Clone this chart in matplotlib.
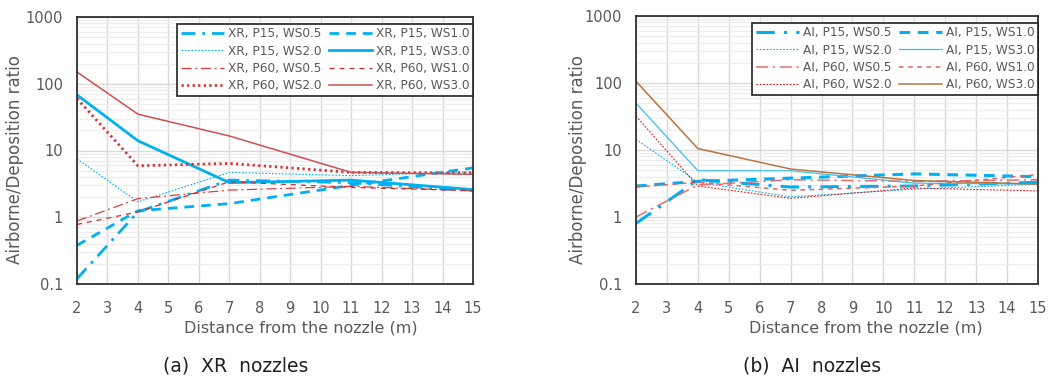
import numpy as np
import matplotlib
matplotlib.use("Agg")
from matplotlib import pyplot as plt
from matplotlib.ticker import FixedLocator, LogLocator, NullFormatter

# measurement distances (m)
distance = [2, 4, 7, 11, 15]

# XR nozzles, airborne/deposition ratio
xr_p15_ws05 = [0.12, 1.2, 3.6, 3.3, 2.5]
xr_p15_ws10 = [0.38, 1.25, 1.6, 3.0, 5.5]
xr_p15_ws20 = [7.5, 1.7, 4.7, 4.2, 4.8]
xr_p15_ws30 = [68, 14, 3.3, 3.6, 2.6]
xr_p60_ws05 = [0.88, 1.9, 2.55, 2.9, 2.5]
xr_p60_ws10 = [0.78, 1.2, 3.4, 2.8, 2.5]
xr_p60_ws20 = [60, 5.9, 6.4, 4.7, 4.6]
xr_p60_ws30 = [150, 35, 16.5, 4.7, 4.4]

# AI nozzles
ai_p15_ws05 = [0.8, 3.6, 2.8, 2.9, 3.3]
ai_p15_ws10 = [2.9, 3.4, 3.8, 4.4, 4.0]
ai_p15_ws20 = [14.5, 3.3, 2.0, 2.6, 3.1]
ai_p15_ws30 = [50, 4.9, 4.9, 3.2, 3.1]
ai_p60_ws05 = [1.0, 3.0, 3.6, 3.4, 3.6]
ai_p60_ws10 = [2.8, 3.3, 2.5, 2.9, 4.3]
ai_p60_ws20 = [32, 2.9, 1.9, 2.7, 2.45]
ai_p60_ws30 = [106, 10.5, 5.2, 3.5, 3.1]

xticks = list(range(2, 16))
yticks = [0.1, 1, 10, 100, 1000]
yticklabels = ["0.1", "1", "10", "100", "1000"]

BLUE = "#00B0F0"
GRAY = "#595959"

plt.rcParams["font.family"] = ["DejaVu Sans"]

fig = plt.figure(figsize=(10.58, 3.8), dpi=100)
ax1 = fig.add_axes([77/1058, 1-284/380, 396/1058, 267/380])
ax2 = fig.add_axes([636/1058, 1-284/380, 402/1058, 268/380])

# (label, data, color, linewidth, dashes)
xr_series = [
    ("XR, P15, WS0.5", xr_p15_ws05, BLUE, 2.0, (5, 2.5, 1, 2.5)),
    ("XR, P15, WS1.0", xr_p15_ws10, BLUE, 2.0, (3.5, 2.5)),
    ("XR, P15, WS2.0", xr_p15_ws20, BLUE, 0.8, (1.5, 1.5)),
    ("XR, P15, WS3.0", xr_p15_ws30, BLUE, 2.0, None),
    ("XR, P60, WS0.5", xr_p60_ws05, "#E03C3C", 0.9, (8, 3, 1.5, 3)),
    ("XR, P60, WS1.0", xr_p60_ws10, "#D42A2A", 0.9, (4, 4)),
    ("XR, P60, WS2.0", xr_p60_ws20, "#D43434", 2.0, (0.8, 1.2)),
    ("XR, P60, WS3.0", xr_p60_ws30, "#CC5050", 1.1, None),
]

ai_series = [
    ("AI, P15, WS0.5", ai_p15_ws05, BLUE, 2.2, (6, 3, 1, 3)),
    ("AI, P15, WS1.0", ai_p15_ws10, BLUE, 2.2, (3.5, 2.5)),
    ("AI, P15, WS2.0", ai_p15_ws20, BLUE, 0.8, (1.5, 1.5)),
    ("AI, P15, WS3.0", ai_p15_ws30, "#3CBFF0", 0.9, None),
    ("AI, P60, WS0.5", ai_p60_ws05, "#E07070", 1.1, (8, 3, 1.5, 3)),
    ("AI, P60, WS1.0", ai_p60_ws10, "#E06464", 1.1, (3, 3)),
    ("AI, P60, WS2.0", ai_p60_ws20, "#E01010", 0.8, (1.5, 1.5)),
    ("AI, P60, WS3.0", ai_p60_ws30, "#B8743F", 1.1, None),
]


def draw_panel(ax, series, caption, cap_x, ylab_x, xlab_x):
    lines = []
    for label, data, color, lw, dashes in series:
        line, = ax.plot(distance, data, color=color, lw=lw, label=label)
        if dashes is not None:
            line.set_dashes(dashes)
        lines.append(line)

    ax.set_yscale("log")
    ax.set_xlim(2, 15)
    ax.set_ylim(0.1, 1000)
    ax.xaxis.set_major_locator(FixedLocator(xticks))
    ax.set_yticks(yticks)
    ax.set_yticklabels(yticklabels)
    ax.yaxis.set_minor_locator(LogLocator(base=10, subs=np.arange(2, 10)))
    ax.yaxis.set_minor_formatter(NullFormatter())

    ax.grid(True, which="major", color="#D9D9D9", lw=1.0)
    ax.grid(True, which="minor", axis="y", color="#EDEDED", lw=0.9)
    ax.set_axisbelow(True)

    ax.tick_params(which="both", length=0, colors=GRAY, labelsize=10.5)
    ax.tick_params(axis="x", pad=12)
    ax.tick_params(axis="y", pad=10)
    for s in ax.spines.values():
        s.set_color("#303030")
        s.set_linewidth(1.3)

    ax.set_xlabel("Distance from the nozzle (m)", fontsize=11.5, color=GRAY)
    ax.set_ylabel("Airborne/Deposition ratio", fontsize=12, color=GRAY)
    ax.xaxis.set_label_coords(xlab_x, -0.135)
    ax.yaxis.set_label_coords(ylab_x, 0.465)

    # legend filled row by row like the original
    order = [0, 2, 4, 6, 1, 3, 5, 7]
    leg = ax.legend([lines[i] for i in order], [series[i][0] for i in order],
                    ncol=2, loc="upper right", bbox_to_anchor=(1.0, 0.975),
                    fontsize=8.7, frameon=True, fancybox=False, framealpha=1,
                    edgecolor="#202020", handlelength=3.6, handletextpad=0.3,
                    columnspacing=0.6, labelspacing=0.35, borderpad=0.3,
                    borderaxespad=0.0)
    leg.get_frame().set_linewidth(1.2)
    for t in leg.get_texts():
        t.set_color(GRAY)

    fig.text(cap_x, 1-366/380, caption, ha="center", va="center", fontsize=13.5,
             color="#202020")


draw_panel(ax1, xr_series, "(a)  XR  nozzles", 236/1058, -0.134, (301-77)/396)
draw_panel(ax2, ai_series, "(b)  AI  nozzles", 812/1058, -0.122, (866-636)/402)

fig.savefig("out.png", dpi=100)
